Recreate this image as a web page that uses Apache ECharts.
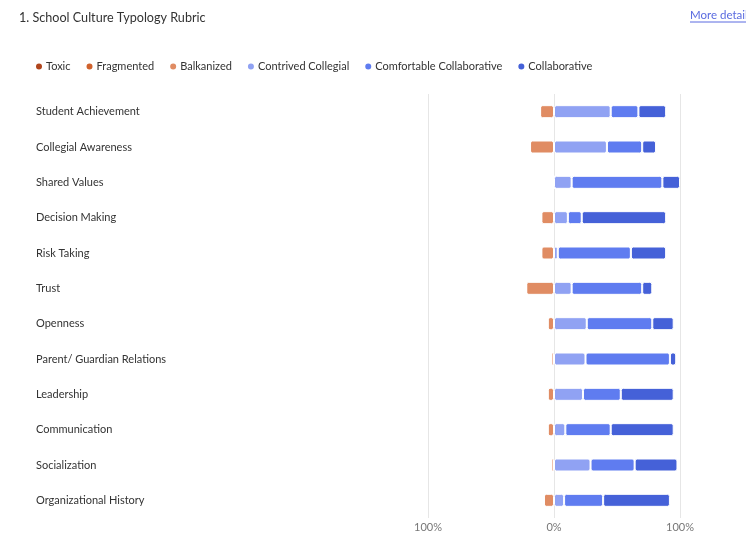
<!DOCTYPE html>
<html>
<head>
<meta charset="utf-8">
<script src="https://cdn.jsdelivr.net/npm/echarts@6/dist/echarts.min.js"></script>
<style>
  html, body { margin: 0; padding: 0; background: #fff; }
  #main { width: 746px; height: 533px; }
</style>
</head>
<body>
<div id="main"></div>
<script>
// categories, top to bottom
var categories = ['Student Achievement', 'Collegial Awareness', 'Shared Values', 'Decision Making',
  'Risk Taking', 'Trust', 'Openness', 'Parent/ Guardian Relations', 'Leadership',
  'Communication', 'Socialization', 'Organizational History'];

// percentages (negative side drawn left of 0)
var toxic = [0, 0, 0, 0, 0, 0, 0, 0, 0, 0, 0, 0];
var fragmented = [0, 0, 0, 0, 0, 0, 0, 0, 0, 0, 0, 0];
var balkanized = [11, 19, 0, 10, 10, 22, 5, 2, 5, 5, 2, 8];
var contrived = [45, 42, 14, 11, 3, 14, 26, 25, 23, 9, 29, 8];
var comfortable = [22, 28, 72, 11, 58, 56, 52, 67, 30, 36, 35, 31];
var collaborative = [22, 11, 14, 67, 28, 8, 17, 5, 42, 50, 34, 53];

var xTicks = ['100%', '0%', '100%'];

var colors = {
  toxic: '#b0451d',
  fragmented: '#d0622d',
  balkanized: '#e08c63',
  contrived: '#90a2f3',
  comfortable: '#5f7cf0',
  collaborative: '#4561d8'
};

function neg(arr) {
  return arr.map(function (v) { return -v; });
}

function barSeries(name, data, color) {
  return {
    name: name,
    type: 'bar',
    stack: 'total',
    data: data,
    barWidth: 13,
    itemStyle: {
      color: color,
      borderColor: '#fff',
      borderWidth: 1,
      borderRadius: 2
    },
    emphasis: { disabled: true }
  };
}

var chart = echarts.init(document.getElementById('main'));

var option = {
  animation: false,
  textStyle: { fontFamily: 'Lato' },
  title: {
    text: '1. School Culture Typology Rubric',
    left: 14,
    top: 6,
    textStyle: { fontSize: 12.6, fontWeight: 'normal', color: '#333' }
  },
  graphic: [
    {
      type: 'text',
      left: 690,
      top: 9,
      style: { text: 'More details', fill: '#5a6be0', fontSize: 11.5, fontFamily: 'Lato' }
    },
    {
      type: 'line',
      shape: { x1: 690, y1: 22, x2: 746, y2: 22 },
      style: { stroke: '#5a6be0', lineWidth: 1 }
    }
  ],
  legend: {
    left: 29,
    top: 56,
    icon: 'circle',
    itemWidth: 8,
    itemHeight: 8,
    itemGap: 14,
    data: ['Toxic', 'Fragmented', 'Balkanized', 'Contrived Collegial', 'Comfortable Collaborative', 'Collaborative'],
    textStyle: { fontSize: 11, color: '#333', padding: [0, 0, 0, -2] }
  },
  grid: {
    left: 428,
    right: 66,
    top: 94,
    bottom: 12,
    containLabel: false
  },
  xAxis: {
    type: 'value',
    min: -100,
    max: 100,
    interval: 100,
    axisLine: { show: false },
    axisTick: { show: false },
    splitLine: { lineStyle: { color: '#e6e6e6', width: 1 } },
    axisLabel: {
      color: '#777',
      fontSize: 11,
      margin: 4,
      formatter: function (v) {
        return xTicks[Math.round(v / 100) + 1];
      }
    }
  },
  yAxis: {
    type: 'category',
    inverse: true,
    data: categories,
    axisLine: { show: false },
    axisTick: { show: false },
    splitLine: { show: false },
    axisLabel: {
      align: 'left',
      margin: 392,
      color: '#333',
      fontSize: 11
    }
  },
  series: [
    barSeries('Balkanized', neg(balkanized), colors.balkanized),
    barSeries('Fragmented', neg(fragmented), colors.fragmented),
    barSeries('Toxic', neg(toxic), colors.toxic),
    barSeries('Contrived Collegial', contrived, colors.contrived),
    barSeries('Comfortable Collaborative', comfortable, colors.comfortable),
    barSeries('Collaborative', collaborative, colors.collaborative)
  ]
};

chart.setOption(option);
</script>
</body>
</html>
